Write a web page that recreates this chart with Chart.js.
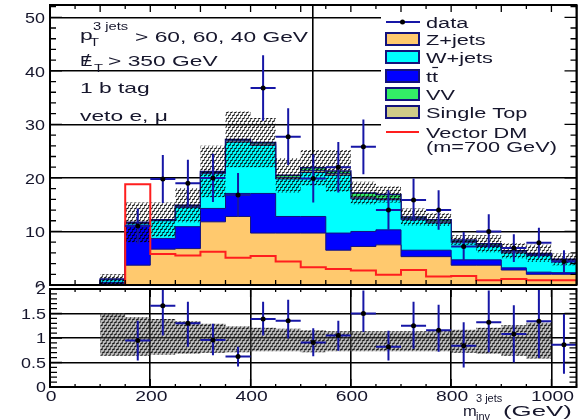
<!DOCTYPE html>
<html>
<head>
<meta charset="utf-8">
<title>m_inv 3 jets</title>
<script src="https://cdn.jsdelivr.net/npm/chart.js@4.4.1/dist/chart.umd.min.js"></script>
<style>
  html, body { margin: 0; padding: 0; background: #ffffff; }
  #wrap { position: relative; width: 583px; height: 420px; overflow: hidden; }
  #wrap canvas { position: absolute; left: 0; top: 0; }
</style>
</head>
<body>
<div id="wrap">
  <canvas id="mainPad" width="583" height="420"></canvas>
  <canvas id="ratioPad" width="583" height="420"></canvas>
</div>
<script>
// ---------------- binning (GeV) ----------------
const binLowEdges = [100, 150, 200, 250, 300, 350, 400, 450, 500, 550, 600, 650, 700, 750, 800, 850, 900, 950, 1000];
const binWidth = 50;

// ---------------- backgrounds (events / bin) ----------------
const zJets     = [0.3, 3.7, 6.7, 6.8, 11.8, 12.8, 9.7, 9.7, 9.7, 6.5, 7.2, 7.5, 5.3, 5.3, 3.7, 3.7, 2.8, 2.0, 2.0];
const ttbar     = [0.2, 7.2, 2.0, 4.1, 2.5, 4.3, 7.4, 3.1, 3.1, 3.2, 2.8, 2.8, 1.2, 1.2, 1.0, 1.0, 0.4, 0.4, 0.3];
const wJets     = [0.5, 0.5, 3.3, 3.6, 6.5, 9.6, 9.0, 7.0, 8.2, 10.8, 6.1, 5.6, 5.7, 5.1, 3.2, 2.5, 2.8, 3.1, 2.2];
const singleTop = [0.05, 0.15, 0.1, 0.2, 0.2, 0.25, 0.25, 0.3, 0.35, 0.3, 0.3, 0.2, 0.2, 0.2, 0.2, 0.2, 0.2, 0.2, 0.15];
const diboson   = [0.05, 0.15, 0.1, 0.2, 0.2, 0.25, 0.25, 0.4, 0.55, 0.5, 0.8, 0.8, 0.3, 0.4, 0.3, 0.3, 0.2, 0.2, 0.15];
const bkgUncertainty = [0.9, 3.7, 3.2, 3.2, 4.8, 5.2, 4.6, 3.2, 3.3, 3.9, 2.1, 1.5, 1.6, 1.2, 0.9, 1.6, 1.4, 1.6, 1.1];

// ---------------- signal: vector DM, m = 700 GeV ----------------
const signalLowEdges = [0, 50, 100, 150, 200, 250, 300, 350, 400, 450, 500, 550, 600, 650, 700, 750, 800, 850, 900, 950, 1000];
const vectorDM = [0, 0, 0, 18.8, 5.8, 5.5, 6.2, 5.1, 5.4, 4.4, 3.3, 3.0, 2.7, 1.9, 2.8, 1.6, 1.7, 0.9, 1.1, 0.9, 0.9];

// ---------------- data ----------------
const dataMass   = [175, 225, 275, 325, 375, 425, 475, 525, 575, 625, 675, 725, 775, 825, 875, 925, 975, 1025];
const dataEvents = [11.0, 19.8, 19.0, 20.0, 16.8, 36.8, 27.7, 19.9, 22.0, 25.8, 14.0, 15.9, 14.0, 7.2, 10.0, 6.9, 7.9, 4.4];
const dataErrors = [3.3, 4.5, 4.4, 4.5, 4.1, 6.1, 5.3, 4.5, 4.7, 5.1, 3.7, 4.0, 3.7, 2.7, 3.2, 2.6, 2.8, 2.1];

// ---------------- data / MC ----------------
const ratioValues = [0.95, 1.66, 1.30, 0.96, 0.62, 1.39, 1.35, 0.91, 1.05, 1.50, 0.82, 1.25, 1.16, 0.84, 1.32, 1.08, 1.34, 0.86];
const ratioHigh   = [1.35, 2.10, 1.74, 1.29, 0.82, 1.74, 1.78, 1.20, 1.35, 1.97, 1.15, 1.74, 1.68, 1.32, 1.97, 1.67, 2.05, 1.49];
const ratioLow    = [0.54, 1.05, 0.82, 0.65, 0.42, 1.05, 0.99, 0.63, 0.74, 1.12, 0.54, 0.78, 0.72, 0.40, 0.71, 0.50, 0.59, 0.27];
const ratioBandHigh = [1.51, 1.43, 1.39, 1.34, 1.29, 1.24, 1.21, 1.19, 1.16, 1.14, 1.14, 1.14, 1.14, 1.14, 1.17, 1.21, 1.26, 1.31];
const ratioBandLow  = [0.64, 0.64, 0.66, 0.68, 0.70, 0.71, 0.73, 0.73, 0.71, 0.73, 0.73, 0.73, 0.73, 0.73, 0.70, 0.68, 0.64, 0.58];

// ---------------- tick labels ----------------
const mainYTicks  = [0, 10, 20, 30, 40, 50];
const ratioYTicks = [0, 0.5, 1, 1.5, 2];
const massTicks   = [0, 200, 400, 600, 800, 1000];

// ---------------- style ----------------
const FONT = '"Liberation Sans", Arial, Helvetica, sans-serif';
const INK = '#16162c';
const ERR_BLUE = '#1616a6';
const OUTLINE = '#12127c';
const COLORS = { z: '#ffc96e', w: '#00ffff', tt: '#0000ff', vv: '#33ee66', st: '#cfcb88', dm: '#ff1e1e' };

function drawText(ctx, txt, x, y, size, align, stretch, color) {
  ctx.save();
  ctx.font = size + 'px ' + FONT;
  ctx.fillStyle = color || INK;
  ctx.textBaseline = 'alphabetic';
  ctx.textAlign = align || 'left';
  ctx.translate(x, y);
  ctx.scale(stretch, 1);
  ctx.fillText(txt, 0, 0);
  const w = ctx.measureText(txt).width * stretch;
  ctx.restore();
  return w;
}

// short slanted dashes in staggered rows
function makePattern(ctx, w, h, color, lw, shade) {
  const c = document.createElement('canvas');
  c.width = w; c.height = h * 2;
  const g = c.getContext('2d');
  if (shade) { g.fillStyle = shade; g.fillRect(0, 0, w, h * 2); }
  g.strokeStyle = color; g.lineWidth = lw; g.lineCap = 'butt';
  g.beginPath();
  g.moveTo(0, h - 0.8); g.lineTo(w * 0.7, 0.6);
  g.moveTo(w * 0.5, 2 * h - 0.8); g.lineTo(w * 1.2, h + 0.6);
  g.moveTo(-w * 0.5, 2 * h - 0.8); g.lineTo(w * 0.2, h + 0.6);
  g.stroke();
  return ctx.createPattern(c, 'repeat');
}

// closed histogram outline from low edges and contents
function histPoints(lows, width, values) {
  const n = values.length;
  const pts = [{ x: lows[0], y: 0 }];
  for (let i = 0; i < n; i++) pts.push({ x: lows[i], y: values[i] });
  const end = lows[n - 1] + width;
  pts.push({ x: end, y: values[n - 1] });
  pts.push({ x: end, y: 0 });
  return pts;
}
// open step line from low edges and contents
function stepPoints(lows, width, values) {
  const n = values.length;
  const pts = [];
  for (let i = 0; i < n; i++) pts.push({ x: lows[i], y: values[i] });
  pts.push({ x: lows[n - 1] + width, y: values[n - 1] });
  return pts;
}
function cumulative(...layers) {
  return layers[0].map((_, i) => layers.reduce((s, l) => s + l[i], 0));
}
function tickRun(from, to, step, fn) {
  const n = Math.floor((to - from) / step + 1e-6);
  for (let i = 0; i <= n; i++) fn(from + i * step);
}

// stacked totals (bottom to top: Z, tt, W, single top, VV)
const cumZ  = cumulative(zJets);
const cumTT = cumulative(zJets, ttbar);
const cumW  = cumulative(zJets, ttbar, wJets);
const cumST = cumulative(zJets, ttbar, wJets, singleTop);
const cumVV = cumulative(zJets, ttbar, wJets, singleTop, diboson);
const bandUp   = cumVV.map((t, i) => t + bkgUncertainty[i]);
const bandDown = cumVV.map((t, i) => Math.max(0, t - bkgUncertainty[i]));

// ---------------- shared plugins ----------------
const errorBarPlugin = {
  id: 'errorBars',
  beforeDatasetDraw(chart, args) {
    const ds = chart.data.datasets[args.index];
    if (!ds.errorBars) return;
    const { ctx, chartArea: a, scales: { x, y } } = chart;
    ctx.save();
    ctx.beginPath(); ctx.rect(a.left, a.top, a.right - a.left, a.bottom - a.top); ctx.clip();
    ctx.strokeStyle = ERR_BLUE; ctx.lineWidth = 2;
    ds.errorBars.forEach(e => {
      const px = x.getPixelForValue(e.x), py = y.getPixelForValue(e.y);
      ctx.beginPath();
      ctx.moveTo(x.getPixelForValue(e.x0), py); ctx.lineTo(x.getPixelForValue(e.x1), py);
      ctx.moveTo(px, y.getPixelForValue(e.lo)); ctx.lineTo(px, y.getPixelForValue(e.hi));
      ctx.stroke();
    });
    ctx.restore();
  }
};

function frameAndTicks(chart, spec) {
  const { ctx, chartArea: a, scales: { x, y } } = chart;
  ctx.save();
  ctx.strokeStyle = '#000'; ctx.lineWidth = 1.3;
  ctx.beginPath();
  spec.y.forEach(t => tickRun(y.min, y.max, t.step, v => {
    const py = y.getPixelForValue(v);
    ctx.moveTo(a.left, py); ctx.lineTo(a.left + t.len, py);
    ctx.moveTo(a.right, py); ctx.lineTo(a.right - t.len, py);
  }));
  spec.xBottom.forEach(t => tickRun(x.min, x.max, t.step, v => {
    const px = x.getPixelForValue(v);
    ctx.moveTo(px, a.bottom); ctx.lineTo(px, a.bottom - t.len);
  }));
  spec.xTop.forEach(t => tickRun(x.min, x.max, t.step, v => {
    const px = x.getPixelForValue(v);
    ctx.moveTo(px, a.top); ctx.lineTo(px, a.top + t.len);
  }));
  ctx.stroke();
  ctx.lineWidth = 2;
  ctx.strokeRect(a.left, a.top, a.right - a.left, a.bottom - a.top);
  ctx.restore();
}

function scaleCfg(min, max, step) {
  return {
    type: 'linear', min, max,
    border: { display: false },
    grid: { color: '#000', lineWidth: 1.6, drawTicks: false },
    ticks: { display: false, stepSize: step, includeBounds: false }
  };
}

// ---------------- main pad ----------------
const mainCtx = document.getElementById('mainPad').getContext('2d');
const hatch = makePattern(mainCtx, 4, 3, '#000', 1.15, null);

const mainDecor = {
  id: 'mainDecor',
  afterDatasetsDraw(chart) {
    const { ctx } = chart;
    const ds = chart.data.datasets;
    const byLabel = l => ds.find(d => d.label === l);
    // legend box
    ctx.save();
    ctx.fillStyle = '#fff';
    ctx.fillRect(381, 6, 195, 154);
    const sx0 = 386, sx1 = 419, tx = 426, fs = 15.5, st = 1.4;
    const rows = [
      { l: 'data', cy: 22 }, { l: 'Z+jets', cy: 39 }, { l: 'W+jets', cy: 57 },
      { l: 'tt', cy: 76 }, { l: 'VV', cy: 94 }, { l: 'Single Top', cy: 112 }, { l: 'Vector DM', cy: 132 }
    ];
    rows.forEach(r => {
      const d = byLabel(r.l);
      if (r.l === 'data') {
        ctx.strokeStyle = ERR_BLUE; ctx.lineWidth = 2;
        ctx.beginPath(); ctx.moveTo(sx0, r.cy); ctx.lineTo(sx1 + 1, r.cy); ctx.stroke();
        ctx.fillStyle = '#000';
        ctx.beginPath(); ctx.arc((sx0 + sx1) / 2, r.cy, 2.5, 0, Math.PI * 2); ctx.fill();
      } else if (r.l === 'Vector DM') {
        ctx.strokeStyle = d.borderColor; ctx.lineWidth = 2;
        ctx.beginPath(); ctx.moveTo(sx0, r.cy); ctx.lineTo(sx1, r.cy); ctx.stroke();
      } else {
        ctx.fillStyle = d.backgroundColor;
        ctx.fillRect(sx0, r.cy - 6, sx1 - sx0, 12);
        ctx.strokeStyle = OUTLINE; ctx.lineWidth = 2;
        ctx.strokeRect(sx0, r.cy - 6, sx1 - sx0, 12);
      }
      const w = drawText(ctx, r.l, tx, r.cy + 5.5, fs, 'left', st);
      if (r.l === 'tt') {
        // anti-top bar over the second t
        ctx.strokeStyle = INK; ctx.lineWidth = 1.2;
        ctx.beginPath(); ctx.moveTo(tx + w * 0.52, r.cy - 8.5); ctx.lineTo(tx + w, r.cy - 8.5); ctx.stroke();
      }
    });
    drawText(ctx, '(m=700 GeV)', tx, 152, fs, 'left', st);
    ctx.restore();
  },
  afterDraw(chart) {
    const { ctx, scales: { y } } = chart;
    frameAndTicks(chart, {
      y: [{ step: 2, len: 6 }, { step: 10, len: 12 }],
      xBottom: [{ step: 50, len: 5 }],
      xTop: [{ step: 50, len: 4 }, { step: 100, len: 7 }]
    });
    // y tick labels
    mainYTicks.forEach(v => drawText(ctx, String(v), 45, y.getPixelForValue(v) + 6, 14, 'right', 1.28));
    // selection text
    const fs = 15, st = 1.52;
    drawText(ctx, 'p', 80, 40, fs, 'left', st);
    drawText(ctx, 'T', 90, 45.5, 10.5, 'left', 1.4);
    drawText(ctx, '3 jets', 93, 30, 10.5, 'left', 1.4);
    drawText(ctx, '> 60, 60, 40 GeV', 135, 41.5, fs, 'left', st);
    drawText(ctx, 'E', 80, 65.5, fs, 'left', 1.25);
    drawText(ctx, '/', 84, 66, fs + 1, 'left', 1.2);
    drawText(ctx, 'T', 94, 71.5, 10.5, 'left', 1.4);
    drawText(ctx, '> 350 GeV', 108, 65.5, fs, 'left', st);
    drawText(ctx, '1 b tag', 80, 93, fs, 'left', st);
    drawText(ctx, 'veto e, \u03bc', 80, 120.5, fs, 'left', st);
  }
};

const mainChart = new Chart(mainCtx, {
  type: 'line',
  data: {
    datasets: [
      {
        label: 'data', order: 0, showLine: false,
        data: dataMass.map((m, i) => ({ x: m, y: dataEvents[i] })),
        pointRadius: 2.5, pointBackgroundColor: '#000', pointBorderWidth: 0,
        errorBars: dataMass.map((m, i) => ({ x: m, y: dataEvents[i], x0: m - binWidth / 2, x1: m + binWidth / 2,
          lo: dataEvents[i] - dataErrors[i], hi: dataEvents[i] + dataErrors[i] }))
      },
      {
        label: 'Vector DM', order: 1, data: stepPoints(signalLowEdges, binWidth, vectorDM),
        stepped: true, borderColor: COLORS.dm, borderWidth: 2, pointRadius: 0, fill: false
      },
      {
        label: 'bkg uncertainty', order: 2, data: stepPoints(binLowEdges, binWidth, bandUp),
        stepped: true, borderWidth: 0, pointRadius: 0, backgroundColor: hatch, fill: '+1'
      },
      {
        label: 'bkg uncertainty low', order: 3, data: stepPoints(binLowEdges, binWidth, bandDown),
        stepped: true, borderWidth: 0, pointRadius: 0, fill: false
      },
      { label: 'Z+jets', order: 4, data: histPoints(binLowEdges, binWidth, cumZ), stepped: true,
        backgroundColor: COLORS.z, borderColor: OUTLINE, borderWidth: 1, pointRadius: 0, fill: 'origin' },
      { label: 'tt', order: 5, data: histPoints(binLowEdges, binWidth, cumTT), stepped: true,
        backgroundColor: COLORS.tt, borderColor: OUTLINE, borderWidth: 1, pointRadius: 0, fill: 'origin' },
      { label: 'W+jets', order: 6, data: histPoints(binLowEdges, binWidth, cumW), stepped: true,
        backgroundColor: COLORS.w, borderColor: OUTLINE, borderWidth: 1, pointRadius: 0, fill: 'origin' },
      { label: 'Single Top', order: 7, data: histPoints(binLowEdges, binWidth, cumST), stepped: true,
        backgroundColor: COLORS.st, borderColor: OUTLINE, borderWidth: 1, pointRadius: 0, fill: 'origin' },
      { label: 'VV', order: 8, data: histPoints(binLowEdges, binWidth, cumVV), stepped: true,
        backgroundColor: COLORS.vv, borderColor: OUTLINE, borderWidth: 1.5, pointRadius: 0, fill: 'origin' }
    ]
  },
  options: {
    responsive: false, animation: false, devicePixelRatio: 1,
    layout: { padding: { left: 50, right: 6.5, top: 5, bottom: 135 } },
    plugins: { legend: { display: false }, tooltip: { enabled: false } },
    elements: { line: { tension: 0 } },
    scales: {
      x: Object.assign(scaleCfg(0, 1050, 500), { afterFit: s => { s.height = 0; } }),
      y: Object.assign(scaleCfg(0, 52.3, 10), { afterFit: s => { s.width = 0; } })
    }
  },
  plugins: [errorBarPlugin, mainDecor]
});

// ---------------- ratio pad ----------------
const ratioCtx = document.getElementById('ratioPad').getContext('2d');
const bandHatch = makePattern(ratioCtx, 4, 3, '#111', 1.3, 'rgba(110,110,110,0.45)');

const ratioDecor = {
  id: 'ratioDecor',
  beforeDraw(chart) {
    const { ctx } = chart;
    ctx.save();
    ctx.fillStyle = '#fff';
    ctx.fillRect(0, 287.5, 583, 132.5);
    ctx.restore();
  },
  afterDraw(chart) {
    const { ctx, scales: { x, y } } = chart;
    frameAndTicks(chart, {
      y: [{ step: 0.1, len: 7 }, { step: 0.5, len: 12 }],
      xBottom: [{ step: 50, len: 3 }, { step: 200, len: 8 }],
      xTop: [{ step: 50, len: 3 }, { step: 200, len: 8 }]
    });
    ratioYTicks.forEach(v => drawText(ctx, String(v), 46, y.getPixelForValue(v) + 5, 14, 'right', 1.28));
    massTicks.forEach(v => drawText(ctx, String(v), x.getPixelForValue(v) + 1, 400.5, 14, 'center', 1.38));
    // axis title
    drawText(ctx, 'm', 463, 416, 15, 'left', 1.1);
    drawText(ctx, '3 jets', 476, 402, 10, 'left', 1.1);
    drawText(ctx, 'inv', 476, 420, 10, 'left', 1.1);
    drawText(ctx, '(GeV)', 503, 416, 15, 'left', 1.72);
  }
};

const ratioChart = new Chart(ratioCtx, {
  type: 'line',
  data: {
    datasets: [
      {
        label: 'data / MC', order: 0, showLine: false,
        data: dataMass.map((m, i) => ({ x: m, y: ratioValues[i] })),
        pointRadius: 2.5, pointBackgroundColor: '#000', pointBorderWidth: 0,
        errorBars: dataMass.map((m, i) => ({ x: m, y: ratioValues[i], x0: m - binWidth / 2, x1: m + binWidth / 2,
          lo: ratioLow[i], hi: ratioHigh[i] }))
      },
      {
        label: 'MC uncertainty', order: 1, data: stepPoints(binLowEdges, binWidth, ratioBandHigh),
        stepped: true, borderWidth: 0, pointRadius: 0, backgroundColor: bandHatch, fill: '+1'
      },
      {
        label: 'MC uncertainty low', order: 2, data: stepPoints(binLowEdges, binWidth, ratioBandLow),
        stepped: true, borderWidth: 0, pointRadius: 0, fill: false
      }
    ]
  },
  options: {
    responsive: false, animation: false, devicePixelRatio: 1,
    layout: { padding: { left: 50, right: 6.5, top: 289, bottom: 33 } },
    plugins: { legend: { display: false }, tooltip: { enabled: false } },
    elements: { line: { tension: 0 } },
    scales: {
      x: Object.assign(scaleCfg(0, 1050, 200), { afterFit: s => { s.height = 0; } }),
      y: Object.assign(scaleCfg(0, 2, 0.5), { afterFit: s => { s.width = 0; } })
    }
  },
  plugins: [errorBarPlugin, ratioDecor]
});
</script>
</body>
</html>
